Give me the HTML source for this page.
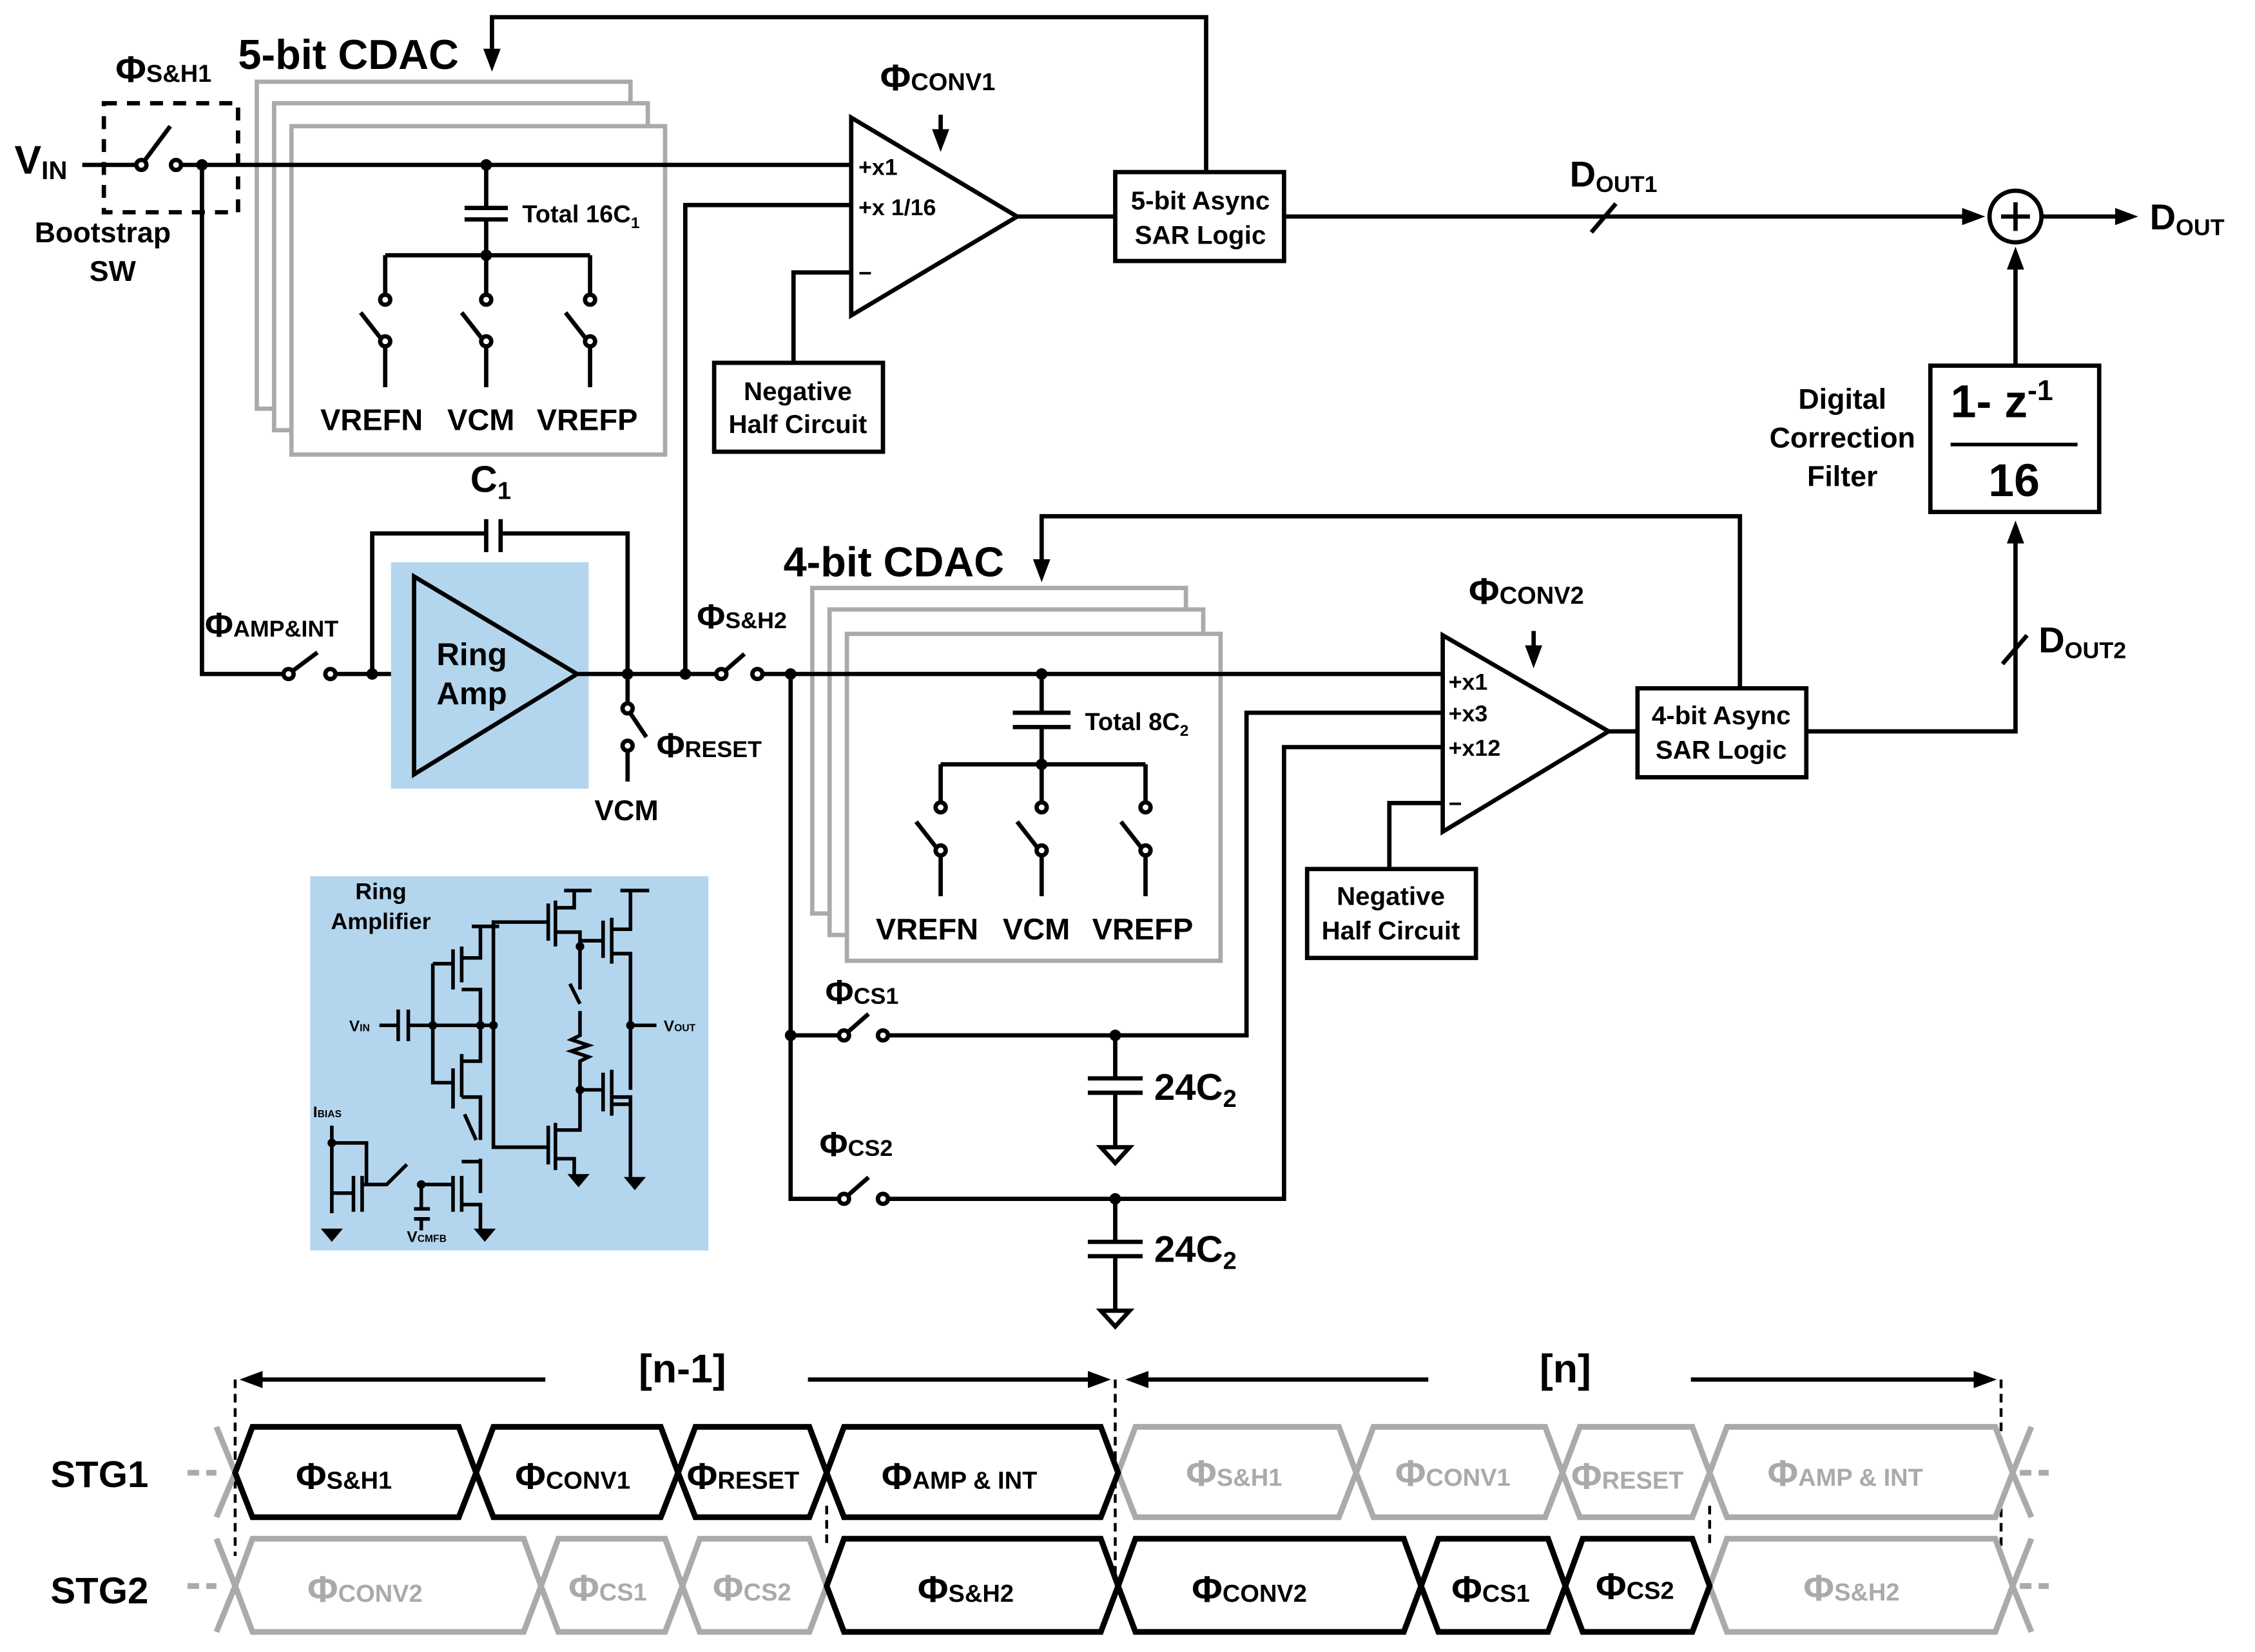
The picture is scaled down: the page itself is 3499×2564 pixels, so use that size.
<!DOCTYPE html>
<html><head><meta charset="utf-8"><style>
html,body{margin:0;padding:0;background:#fff;}
svg{display:block;}
text{font-family:"Liberation Sans Narrow","Liberation Sans",sans-serif;font-weight:bold;fill:#000;}
</style></head><body>
<svg width="3499" height="2564" viewBox="0 0 1563 1152" preserveAspectRatio="none" xmlns="http://www.w3.org/2000/svg">
<defs>
<marker id="ah" markerWidth="16" markerHeight="12" refX="2" refY="6" orient="auto" markerUnits="userSpaceOnUse"><path d="M0,0 L16,6 L0,12z" fill="#000"/></marker>
</defs>
<g stroke="#000" stroke-width="3" fill="none">
<rect x="178" y="57" width="259" height="228" stroke="#aaa" fill="#fff"/>
<rect x="190" y="72" width="259" height="228" stroke="#aaa" fill="#fff"/>
<rect x="202" y="88" width="259" height="229" stroke="#aaa" fill="#fff"/>
<rect x="563" y="410" width="259" height="227" stroke="#aaa" fill="#fff"/>
<rect x="575" y="425" width="259" height="227" stroke="#aaa" fill="#fff"/>
<rect x="587" y="442" width="259" height="228" stroke="#aaa" fill="#fff"/>

<path d="M57,115 H98"/>
<path d="M98,115 L118,88" />
<circle cx="98" cy="115" r="3.5" fill="#fff"/>
<circle cx="122" cy="115" r="3.5" fill="#fff"/>
<path d="M126,115 H590"/>
<rect x="72" y="72" width="93" height="76" stroke-dasharray="9,7"/>
<path d="M140,115 V470 H200"/>
<path d="M200,470 L220,455"/>
<circle cx="200" cy="470" r="3.5" fill="#fff"/>
<circle cx="229" cy="470" r="3.5" fill="#fff"/>
<path d="M233,470 H287"/>

<path d="M337,115 V145 M322,145 H352 M322,153 H352 M337,153 V178 M267,178 H409 M267,178 V205 M337,178 V205 M409,178 V205"/>
<path d="M267,238 V270 M337,238 V270 M409,238 V270"/>
<path d="M264,236 L250,218 M334,236 L320,218 M406,236 L392,218"/>
<circle cx="267" cy="209" r="3.5" fill="#fff"/><circle cx="337" cy="209" r="3.5" fill="#fff"/><circle cx="409" cy="209" r="3.5" fill="#fff"/>
<circle cx="267" cy="238" r="3.5" fill="#fff"/><circle cx="337" cy="238" r="3.5" fill="#fff"/><circle cx="409" cy="238" r="3.5" fill="#fff"/>

<path d="M836,120 V12 H341 V36" marker-end="url(#ah)"/>

<path d="M590,82 L590,220 L705,151 Z" fill="#fff"/>
<path d="M475,470 V143 H590"/>
<path d="M550,253 V190 H590"/>
<path d="M652,80 V92" marker-end="url(#ah)"/>
<rect x="495" y="253" width="117" height="62" fill="#fff"/>
<path d="M705,151 H773"/>
<rect x="773" y="120" width="117" height="62" fill="#fff"/>
<path d="M890,151 H1362" marker-end="url(#ah)"/>
<path d="M1103,162 L1120,142"/>
<circle cx="1397" cy="151" r="18" fill="#fff"/>
<path d="M1387,151 H1407 M1397,141 V161"/>
<path d="M1415,151 H1468" marker-end="url(#ah)"/>
<path d="M1397,255 V186" marker-end="url(#ah)"/>
<rect x="1338" y="255" width="117" height="102" fill="#fff"/>
<path d="M1352,310 H1440" stroke-width="2.5"/>
<path d="M1252,510 H1397 V377" marker-end="url(#ah)"/>
<path d="M1388,463 L1405,443"/>

<rect x="271" y="392" width="137" height="158" fill="#b3d6ee" stroke="none"/>
<path d="M287,402 L287,540 L400,470 Z"/>
<path d="M258,470 V372 H337 M337,362 V385 M347,362 V385 M347,372 H435 V470"/>
<path d="M400,470 H500"/>
<path d="M500,470 L516,456"/>
<circle cx="500" cy="470" r="3.5" fill="#fff"/><circle cx="525" cy="470" r="3.5" fill="#fff"/>
<path d="M529,470 H1000"/>
<path d="M435,470 V490 M436,496 L448,514 M435,520 V545"/>
<circle cx="435" cy="494" r="3.5" fill="#fff"/><circle cx="435" cy="520" r="3.5" fill="#fff"/>

<path d="M722,470 V497 M702,497 H742 M702,507 H742 M722,507 V533 M652,533 H794 M652,533 V560 M722,533 V560 M794,533 V560"/>
<path d="M652,593 V625 M722,593 V625 M794,593 V625"/>
<path d="M649,591 L635,573 M719,591 L705,573 M791,591 L777,573"/>
<circle cx="652" cy="563" r="3.5" fill="#fff"/><circle cx="722" cy="563" r="3.5" fill="#fff"/><circle cx="794" cy="563" r="3.5" fill="#fff"/>
<circle cx="652" cy="593" r="3.5" fill="#fff"/><circle cx="722" cy="593" r="3.5" fill="#fff"/><circle cx="794" cy="593" r="3.5" fill="#fff"/>
<path d="M1206,480 V360 H722 V392" marker-end="url(#ah)"/>

<path d="M1000,443 L1000,580 L1115,510 Z" fill="#fff"/>
<path d="M963,606 V560 H1000"/>
<rect x="906" y="606" width="117" height="62" fill="#fff"/>
<path d="M1063,440 V452" marker-end="url(#ah)"/>
<path d="M1115,510 H1135"/>
<rect x="1135" y="480" width="117" height="62" fill="#fff"/>
<path d="M1000,497 H864 V722 H612"/>
<path d="M1000,521 H890 V836 H612"/>
<path d="M548,470 V836 H585 M548,722 H585"/>
<path d="M585,722 L602,707 M585,836 L602,821"/>
<circle cx="585" cy="722" r="3.5" fill="#fff"/><circle cx="612" cy="722" r="3.5" fill="#fff"/>
<circle cx="585" cy="836" r="3.5" fill="#fff"/><circle cx="612" cy="836" r="3.5" fill="#fff"/>
<path d="M773,722 V752 M754,752 H792 M754,762 H792 M773,762 V800"/>
<path d="M763,800 H783 L773,811 Z"/>
<path d="M773,836 V866 M754,866 H792 M754,876 H792 M773,876 V914"/>
<path d="M763,914 H783 L773,925 Z"/>

<rect x="215" y="611" width="276" height="261" fill="#b3d6ee" stroke="none"/>
<g stroke-width="2.5">
<path d="M263,715 H276 M276,704 V726 M283,704 V726 M283,715 H342"/>
<path d="M300,672 V755 H314 M300,672 H314 M314,662 V690 M314,745 V773"/>
<path d="M320,660 V685 M320,668 H333 V645 M327,646 H346 M320,690 H333 V715 M320,740 H333 V715 M320,765 H333 V795"/>
<path d="M320,735 V765"/>
<path d="M330,795 L322,777" /><path d="M333,808 V832 M320,810 H333 M320,820 V845 M314,820 V845 M320,840 H333 V858"/>
<path d="M289,826 H314 M292,826 V843 M287,843 H298 M287,850 H298 M292,850 V858"/>
<path d="M230,785 V797 H254 V826 M230,797 V846 M230,832 H245 M245,820 V845 M251,820 V845 M251,826 H268 L282,812"/>
<path d="M342,715 V800 H380 M342,715 V643 H380 M380,630 V656 M385,628 V660 M385,633 H398 V620 M391,621 H410 M385,650 H402 V690 M402,656 H418 M418,642 V668 M424,640 V672 M424,648 H437 V620 M430,621 H450 M424,665 H437 V760"/>
<path d="M402,700 L395,686 M402,705 V722 L396,725 L408,729 L396,733 L408,737 L402,740 V760 M402,760 H418"/>
<path d="M380,785 V812 M385,783 V816 M385,788 H402 V760 M385,808 H398 V820 M418,748 V775 M424,746 V778 M424,765 H437 V770 M424,770 H437 V822 M437,715 H455 M437,760 V715"/>
<path d="M225,858 H235 L230,864Z M331,858 H341 L336,864Z M396,820 H406 L401,826Z M435,822 H445 L440,828Z" fill="#000"/>
</g>

<path d="M378,962 H180" marker-end="url(#ah)"/>
<path d="M560,962 H756" marker-end="url(#ah)"/>
<path d="M990,962 H794" marker-end="url(#ah)"/>
<path d="M1172,962 H1370" marker-end="url(#ah)"/>
<path d="M163,962 V1085 M773,962 V1100 M573,1050 V1078 M1387,962 V1085 M1185,1050 V1080" stroke-width="2" stroke-dasharray="6,4"/>
</g>
<g stroke-width="4" fill="#fff">
<path d="M130,1027 H150 M1400,1027 H1420 M130,1106 H150 M1400,1106 H1420" stroke="#aaa" stroke-dasharray="8,5"/>
<path d="M150,995 L163,1027 L150,1058 M1408,995 L1395,1027 L1408,1058 M150,1073 L163,1106 L150,1138 M1408,1073 L1395,1106 L1408,1138" stroke="#aaa" fill="none"/>
<g stroke="#aaa">
<path d="M775,1027 L787,995 H928 L940,1027 L928,1058 H787Z"/>
<path d="M940,1027 L952,995 H1071 L1083,1027 L1071,1058 H952Z"/>
<path d="M1083,1027 L1095,995 H1173 L1185,1027 L1173,1058 H1095Z"/>
<path d="M1185,1027 L1197,995 H1383 L1395,1027 L1383,1058 H1197Z"/>
<path d="M163,1106 L175,1073 H363 L375,1106 L363,1138 H175Z"/>
<path d="M375,1106 L387,1073 H461 L473,1106 L461,1138 H387Z"/>
<path d="M473,1106 L485,1073 H561 L573,1106 L561,1138 H485Z"/>
<path d="M1185,1106 L1197,1073 H1383 L1395,1106 L1383,1138 H1197Z"/>
</g>
<g stroke="#000">
<path d="M163,1027 L175,995 H318 L330,1027 L318,1058 H175Z"/>
<path d="M330,1027 L342,995 H458 L470,1027 L458,1058 H342Z"/>
<path d="M470,1027 L482,995 H561 L573,1027 L561,1058 H482Z"/>
<path d="M573,1027 L585,995 H763 L775,1027 L763,1058 H585Z"/>
<path d="M573,1106 L585,1073 H763 L775,1106 L763,1138 H585Z"/>
<path d="M775,1106 L787,1073 H973 L985,1106 L973,1138 H787Z"/>
<path d="M985,1106 L997,1073 H1073 L1085,1106 L1073,1138 H997Z"/>
<path d="M1085,1106 L1097,1073 H1173 L1185,1106 L1173,1138 H1097Z"/>
</g>
</g>

<g fill="#000">
<circle cx="140" cy="115" r="4"/><circle cx="337" cy="115" r="4"/><circle cx="337" cy="178" r="4"/>
<circle cx="258" cy="470" r="4"/><circle cx="435" cy="470" r="4"/><circle cx="475" cy="470" r="4"/>
<circle cx="548" cy="470" r="4"/><circle cx="722" cy="470" r="4"/><circle cx="722" cy="533" r="4"/>
<circle cx="548" cy="722" r="4"/><circle cx="773" cy="722" r="4"/><circle cx="773" cy="836" r="4"/>
<circle cx="300" cy="715" r="3"/><circle cx="333" cy="715" r="3"/><circle cx="342" cy="715" r="3"/><circle cx="437" cy="715" r="3"/><circle cx="402" cy="660" r="3"/><circle cx="402" cy="760" r="3"/><circle cx="230" cy="797" r="3"/><circle cx="292" cy="826" r="3"/>
</g>

<text x="10" y="121" font-size="28">V<tspan font-size="18" dy="4">IN</tspan></text>
<text x="80" y="57" font-size="26">Φ<tspan font-size="17">S&amp;H1</tspan></text>
<text x="165" y="48" font-size="29">5-bit CDAC</text>
<text x="24" y="169" font-size="20">Bootstrap</text>
<text x="62" y="196" font-size="20">SW</text>
<text x="362" y="155" font-size="17">Total 16C<tspan font-size="11" dy="4">1</tspan></text>
<text x="222" y="300" font-size="21">VREFN</text><text x="310" y="300" font-size="21">VCM</text><text x="372" y="300" font-size="21">VREFP</text>
<text x="610" y="63" font-size="26">Φ<tspan font-size="17">CONV1</tspan></text>
<text x="595" y="122" font-size="16">+x1</text>
<text x="595" y="150" font-size="16">+x 1/16</text>
<text x="595" y="196" font-size="16">−</text>
<text x="553" y="279" font-size="18" text-anchor="middle">Negative</text>
<text x="553" y="302" font-size="18" text-anchor="middle">Half Circuit</text>
<text x="832" y="146" font-size="18" text-anchor="middle">5-bit Async</text>
<text x="832" y="170" font-size="18" text-anchor="middle">SAR Logic</text>
<text x="1088" y="130" font-size="25">D<tspan font-size="16" dy="4">OUT1</tspan></text>
<text x="1490" y="160" font-size="25">D<tspan font-size="16" dy="4">OUT</tspan></text>
<text x="1277" y="285" font-size="20" text-anchor="middle">Digital</text>
<text x="1277" y="312" font-size="20" text-anchor="middle">Correction</text>
<text x="1277" y="339" font-size="20" text-anchor="middle">Filter</text>
<text x="1352" y="291" font-size="32">1- z<tspan font-size="20" dy="-12">-1</tspan></text>
<text x="1396" y="346" font-size="32" text-anchor="middle">16</text>
<text x="326" y="343" font-size="26">C<tspan font-size="17" dy="5">1</tspan></text>
<text x="142" y="444" font-size="24">Φ<tspan font-size="16">AMP&amp;INT</tspan></text>
<text x="327" y="464" font-size="22" text-anchor="middle">Ring</text>
<text x="327" y="491" font-size="22" text-anchor="middle">Amp</text>
<text x="455" y="528" font-size="24">Φ<tspan font-size="16">RESET</tspan></text>
<text x="412" y="572" font-size="20">VCM</text>
<text x="483" y="438" font-size="24">Φ<tspan font-size="16">S&amp;H2</tspan></text>
<text x="543" y="402" font-size="29">4-bit CDAC</text>
<text x="752" y="509" font-size="17">Total 8C<tspan font-size="11" dy="4">2</tspan></text>
<text x="607" y="655" font-size="21">VREFN</text><text x="695" y="655" font-size="21">VCM</text><text x="757" y="655" font-size="21">VREFP</text>
<text x="1018" y="421" font-size="26">Φ<tspan font-size="17">CONV2</tspan></text>
<text x="1004" y="481" font-size="16">+x1</text>
<text x="1004" y="503" font-size="16">+x3</text>
<text x="1004" y="527" font-size="16">+x12</text>
<text x="1004" y="566" font-size="16">−</text>
<text x="964" y="631" font-size="18" text-anchor="middle">Negative</text>
<text x="964" y="655" font-size="18" text-anchor="middle">Half Circuit</text>
<text x="1193" y="505" font-size="18" text-anchor="middle">4-bit Async</text>
<text x="1193" y="529" font-size="18" text-anchor="middle">SAR Logic</text>
<text x="1413" y="455" font-size="25">D<tspan font-size="16" dy="4">OUT2</tspan></text>
<text x="572" y="700" font-size="24">Φ<tspan font-size="16">CS1</tspan></text>
<text x="568" y="806" font-size="24">Φ<tspan font-size="16">CS2</tspan></text>
<text x="800" y="767" font-size="26">24C<tspan font-size="17" dy="5">2</tspan></text>
<text x="800" y="880" font-size="26">24C<tspan font-size="17" dy="5">2</tspan></text>
<text x="264" y="627" font-size="16" text-anchor="middle">Ring</text>
<text x="264" y="648" font-size="16" text-anchor="middle">Amplifier</text>
<text x="242" y="719" font-size="11">V<tspan font-size="7">IN</tspan></text>
<text x="460" y="719" font-size="11">V<tspan font-size="7">OUT</tspan></text>
<text x="217" y="779" font-size="11">I<tspan font-size="7">BIAS</tspan></text>
<text x="282" y="866" font-size="11">V<tspan font-size="7">CMFB</tspan></text>
<text x="473" y="964" font-size="28" text-anchor="middle">[n-1]</text>
<text x="1085" y="964" font-size="28" text-anchor="middle">[n]</text>
<text x="35" y="1037" font-size="26">STG1</text>
<text x="35" y="1118" font-size="26">STG2</text>
<g font-size="26">
<text x="205" y="1038">Φ<tspan font-size="17">S&amp;H1</tspan></text>
<text x="357" y="1038">Φ<tspan font-size="17">CONV1</tspan></text>
<text x="476" y="1038">Φ<tspan font-size="17">RESET</tspan></text>
<text x="611" y="1038">Φ<tspan font-size="17">AMP &amp; INT</tspan></text>
<text x="636" y="1117">Φ<tspan font-size="17">S&amp;H2</tspan></text>
<text x="826" y="1117">Φ<tspan font-size="17">CONV2</tspan></text>
<text x="1006" y="1117">Φ<tspan font-size="17">CS1</tspan></text>
<text x="1106" y="1115">Φ<tspan font-size="17">CS2</tspan></text>
</g>
<g font-size="26">
<text x="822" y="1036" style="fill:#aaa">Φ<tspan font-size="17">S&amp;H1</tspan></text>
<text x="967" y="1036" style="fill:#aaa">Φ<tspan font-size="17">CONV1</tspan></text>
<text x="1089" y="1038" style="fill:#aaa">Φ<tspan font-size="17">RESET</tspan></text>
<text x="1225" y="1036" style="fill:#aaa">Φ<tspan font-size="17">AMP &amp; INT</tspan></text>
<text x="213" y="1117" style="fill:#aaa">Φ<tspan font-size="17">CONV2</tspan></text>
<text x="394" y="1116" style="fill:#aaa">Φ<tspan font-size="17">CS1</tspan></text>
<text x="494" y="1116" style="fill:#aaa">Φ<tspan font-size="17">CS2</tspan></text>
<text x="1250" y="1116" style="fill:#aaa">Φ<tspan font-size="17">S&amp;H2</tspan></text>
</g>
</svg>
</body></html>
